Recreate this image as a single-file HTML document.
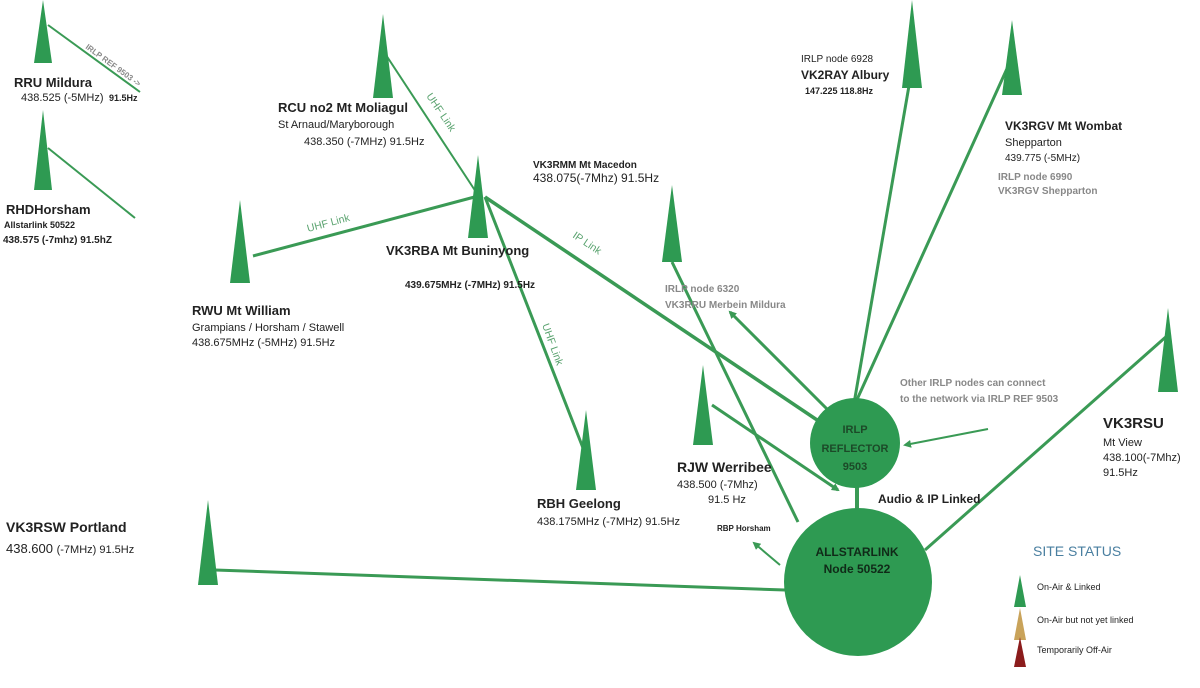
<!DOCTYPE html>
<html><head><meta charset="utf-8"><style>
body{margin:0;background:#fff;width:1200px;height:683px;overflow:hidden}
svg text{font-family:"Liberation Sans",sans-serif}
</style></head><body>
<svg width="1200" height="683" viewBox="0 0 1200 683" xmlns="http://www.w3.org/2000/svg">
<defs>
<marker id="a" markerWidth="8" markerHeight="8" refX="6" refY="4" orient="auto" markerUnits="userSpaceOnUse"><path d="M0,0 L8,4 L0,8z" fill="#3a9a55"/></marker>
</defs>
<g stroke="#3a9a55" fill="none">
<line x1="48" y1="25" x2="140" y2="92" stroke-width="2"/>
<line x1="48" y1="148" x2="135" y2="218" stroke-width="2"/>
<line x1="386" y1="55" x2="478" y2="195" stroke-width="2"/>
<line x1="253" y1="256" x2="482" y2="195" stroke-width="3"/>
<line x1="485" y1="197" x2="583" y2="448" stroke-width="3"/>
<line x1="485" y1="197" x2="832" y2="430" stroke-width="3.5" marker-end="url(#a)"/>
<line x1="672" y1="262" x2="798" y2="522" stroke-width="3"/>
<line x1="712" y1="405" x2="838" y2="490" stroke-width="3" marker-end="url(#a)"/>
<line x1="838" y1="420" x2="730" y2="312" stroke-width="3" marker-end="url(#a)"/>
<line x1="910" y1="80" x2="852" y2="415" stroke-width="3"/>
<line x1="1010" y1="62" x2="850" y2="415" stroke-width="3"/>
<line x1="1168" y1="335" x2="925" y2="550" stroke-width="3"/>
<line x1="215" y1="570" x2="785" y2="590" stroke-width="3"/>
<line x1="857" y1="480" x2="857" y2="510" stroke-width="4"/>
<line x1="988" y1="429" x2="905" y2="445" stroke-width="2" marker-end="url(#a)"/>
<line x1="780" y1="565" x2="754" y2="543" stroke-width="2" marker-end="url(#a)"/>
</g>
<g fill="#2e9a52">
<polygon points="43,0 34,63 52,63"/>
<polygon points="43,110 34,190 52,190"/>
<polygon points="383,14 373,98 393,98"/>
<polygon points="240,200 230,283 250,283"/>
<polygon points="478,155 468,238 488,238"/>
<polygon points="672,185 662,262 682,262"/>
<polygon points="912,0 902,88 922,88"/>
<polygon points="1012,20 1002,95 1022,95"/>
<polygon points="1168,308 1158,392 1178,392"/>
<polygon points="703,365 693,445 713,445"/>
<polygon points="586,410 576,490 596,490"/>
<polygon points="208,500 198,585 218,585"/>
<circle cx="855" cy="443" r="45"/>
<circle cx="858" cy="582" r="74"/>
<polygon points="1020,575 1014,607 1026,607"/>
</g>
<polygon points="1020,608 1014,640 1026,640" fill="#c9a35a"/>
<polygon points="1020,637 1014,667 1026,667" fill="#8b1c1c"/>
<g font-size="11" fill="#222">
<text x="14" y="87" font-weight="bold" font-size="13">RRU Mildura</text>
<text x="21" y="101">438.525 (-5MHz)</text><text x="109" y="101" font-size="9" font-weight="bold">91.5Hz</text>
<text x="6" y="214" font-weight="bold" font-size="13">RHDHorsham</text>
<text x="4" y="228" font-size="9" font-weight="bold">Allstarlink 50522</text>
<text x="3" y="243" font-size="10" font-weight="bold">438.575 (-7mhz) 91.5hZ</text>
<text x="278" y="112" font-weight="bold" font-size="13">RCU no2 Mt Moliagul</text>
<text x="278" y="128">St Arnaud/Maryborough</text>
<text x="304" y="145">438.350 (-7MHz)  91.5Hz</text>
<text x="192" y="315" font-weight="bold" font-size="13">RWU Mt William</text>
<text x="192" y="331">Grampians / Horsham / Stawell</text>
<text x="192" y="346">438.675MHz (-5MHz) 91.5Hz</text>
<text x="386" y="255" font-weight="bold" font-size="13">VK3RBA Mt Buninyong</text>
<text x="405" y="288" font-size="10" font-weight="bold">439.675MHz (-7MHz) 91.5Hz</text>
<text x="533" y="168" font-weight="bold" font-size="10">VK3RMM Mt Macedon</text>
<text x="533" y="182" font-size="12">438.075(-7Mhz) 91.5Hz</text>
<text x="801" y="62" font-size="10">IRLP node 6928</text>
<text x="801" y="79" font-weight="bold" font-size="12">VK2RAY Albury</text>
<text x="805" y="94" font-weight="bold" font-size="9">147.225 118.8Hz</text>
<text x="1005" y="130" font-weight="bold" font-size="12">VK3RGV Mt Wombat</text>
<text x="1005" y="146">Shepparton</text>
<text x="1005" y="161" font-size="10">439.775 (-5MHz)</text>
<text x="998" y="180" font-size="10" font-weight="bold" fill="#888">IRLP node 6990</text>
<text x="998" y="194" font-size="10" font-weight="bold" fill="#888">VK3RGV Shepparton</text>
<text x="665" y="292" font-size="10" font-weight="bold" fill="#888">IRLP node 6320</text>
<text x="665" y="308" font-size="10" font-weight="bold" fill="#888">VK3RRU Merbein  Mildura</text>
<text x="900" y="386" font-size="10" font-weight="bold" fill="#888">Other IRLP nodes can connect</text>
<text x="900" y="402" font-size="10" font-weight="bold" fill="#888">to the network via IRLP REF 9503</text>
<text x="1103" y="428" font-weight="bold" font-size="15">VK3RSU</text>
<text x="1103" y="446">Mt View</text>
<text x="1103" y="461">438.100(-7Mhz)</text>
<text x="1103" y="476">91.5Hz</text>
<text x="677" y="472" font-weight="bold" font-size="14">RJW Werribee</text>
<text x="677" y="488">438.500 (-7Mhz)</text>
<text x="708" y="503">91.5 Hz</text>
<text x="537" y="508" font-weight="bold" font-size="13">RBH Geelong</text>
<text x="537" y="525">438.175MHz (-7MHz) 91.5Hz</text>
<text x="717" y="531" font-size="8" font-weight="bold">RBP Horsham</text>
<text x="878" y="503" font-weight="bold" font-size="12">Audio &amp; IP Linked</text>
<text x="6" y="532" font-weight="bold" font-size="14">VK3RSW Portland</text>
<text x="6" y="553" font-size="13">438.600 <tspan font-size="11">(-7MHz) 91.5Hz</tspan></text>
<text x="855" y="433" text-anchor="middle" font-weight="bold" font-size="11" fill="#1c4a28">IRLP</text>
<text x="855" y="452" text-anchor="middle" font-weight="bold" font-size="11" fill="#1c4a28">REFLECTOR</text>
<text x="855" y="470" text-anchor="middle" font-weight="bold" font-size="11" fill="#1c4a28">9503</text>
<text x="857" y="556" text-anchor="middle" font-weight="bold" font-size="12" fill="#102a18">ALLSTARLINK</text>
<text x="857" y="573" text-anchor="middle" font-weight="bold" font-size="12" fill="#102a18">Node 50522</text>
<text x="1033" y="556" font-size="14" fill="#4a7fa0">SITE STATUS</text>
<text x="1037" y="590" font-size="9">On-Air &amp; Linked</text>
<text x="1037" y="623" font-size="9">On-Air but not yet linked</text>
<text x="1037" y="653" font-size="9">Temporarily Off-Air</text>
</g>
<g font-size="10.5" fill="#5aa36f">
<text transform="translate(85,48) rotate(36)" fill="#888" font-weight="bold" font-size="8">IRLP REF 9503 -&gt;</text>
<text transform="translate(426,96) rotate(56)">UHF Link</text>
<text transform="translate(308,232) rotate(-15)">UHF Link</text>
<text transform="translate(572,237) rotate(34)">IP Link</text>
<text transform="translate(542,325) rotate(70)">UHF Link</text>
</g>
</svg>
</body></html>
